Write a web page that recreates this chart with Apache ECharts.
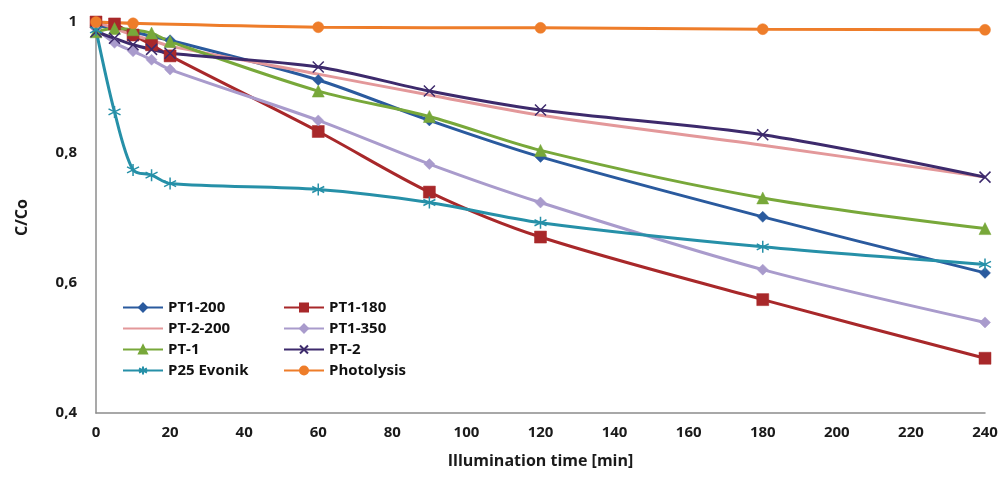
<!DOCTYPE html>
<html lang="en">
<head>
    <meta charset="UTF-8">
    <title>C/Co vs illumination time</title>
    <script src="https://cdn.jsdelivr.net/npm/echarts@6/dist/echarts.min.js"></script>
    <style>
        body { margin: 0; background: #fff; }
    </style>
</head>
<body>
    <div id="main" style="width: 1005px; height: 479px;"></div>
    <script>
        // sampling times [min]
        const times = [0, 5, 10, 15, 20, 60, 90, 120, 180, 240];

        // C/Co for each sample
        const pt1_200 = [0.995, 0.99, 0.985, 0.978, 0.972, 0.911, 0.849, 0.793, 0.701, 0.615];
        const pt1_180 = [1.0, 0.997, 0.98, 0.965, 0.948, 0.832, 0.739, 0.670, 0.574, 0.484];
        const pt2_200 = [1.0, 0.99, 0.98, 0.972, 0.963, 0.920, 0.888, 0.857, 0.811, 0.762];
        const pt1_350 = [0.99, 0.968, 0.955, 0.942, 0.927, 0.849, 0.782, 0.723, 0.620, 0.539];
        const pt_1 = [0.985, 0.99, 0.988, 0.983, 0.97, 0.894, 0.855, 0.803, 0.730, 0.683];
        const pt_2 = [0.985, 0.975, 0.965, 0.958, 0.952, 0.931, 0.894, 0.865, 0.827, 0.762];
        const p25 = [0.988, 0.862, 0.773, 0.765, 0.752, 0.743, 0.723, 0.692, 0.655, 0.628];
        const photolysis = [1.0, null, 0.998, null, null, 0.992, null, 0.991, 0.989, 0.988];

        const xSym = 'path://M0,0 L10,10 M10,0 L0,10';
        const starSym = 'path://M5,0 L5,10 M0,2.5 L10,7.5 M0,7.5 L10,2.5';

        function pairs(vals) {
            return times.map((t, i) => [t, vals[i]]);
        }

        function line(name, vals, color, symbol, size, stroke) {
            return {
                name: name,
                type: 'line',
                data: pairs(vals),
                smooth: 0.3,
                connectNulls: true,
                symbol: symbol,
                symbolSize: size,
                showSymbol: size > 0,
                lineStyle: { color: color, width: 3 },
                itemStyle: stroke
                    ? { color: 'rgba(0,0,0,0)', borderColor: color, borderWidth: 1.5 }
                    : { color: color, borderColor: color, borderWidth: 0.5 }
            };
        }

        const chart = echarts.init(document.getElementById('main'));
        const font = { fontFamily: 'Open Sans', fontWeight: 'bold', fontSize: 15, color: '#1a1a1a' };
        const legendText = { fontFamily: 'Open Sans', fontWeight: 'bold', fontSize: 15, color: '#111' };

        chart.setOption({
            animation: false,
            grid: { left: 96, right: 20, top: 22, bottom: 66 },
            legend: [{
                data: ['PT1-200', { name: 'PT-2-200', itemStyle: { color: 'rgba(0,0,0,0)', borderWidth: 0 } }, 'PT-1', 'P25 Evonik'],
                orient: 'vertical',
                left: 117, top: 295,
                itemWidth: 40, itemHeight: 10, itemGap: 6,
                textStyle: legendText
            }, {
                data: ['PT1-180', 'PT1-350', 'PT-2', 'Photolysis'],
                orient: 'vertical',
                left: 278, top: 295,
                itemWidth: 40, itemHeight: 10, itemGap: 6,
                textStyle: legendText
            }],
            xAxis: {
                type: 'value',
                min: 0, max: 240, interval: 20,
                name: 'Illumination time [min]',
                nameLocation: 'middle',
                nameGap: 40,
                nameTextStyle: Object.assign({}, font, { fontSize: 16 }),
                axisLine: { lineStyle: { color: '#8c8c8c', width: 1.5 } },
                axisTick: { show: false },
                splitLine: { show: false },
                axisLabel: Object.assign({ margin: 12 }, font)
            },
            yAxis: {
                type: 'value',
                min: 0.4, max: 1, interval: 0.2,
                name: 'C/Co',
                nameLocation: 'middle',
                nameGap: 66,
                nameRotate: 90,
                nameTextStyle: Object.assign({}, font, { fontSize: 16 }),
                axisLine: { show: true, lineStyle: { color: '#8c8c8c', width: 1.5 } },
                axisTick: { show: false },
                splitLine: { show: false },
                axisLabel: Object.assign({
                    margin: 19,
                    formatter: v => String(Math.round(v * 10) / 10).replace('.', ',')
                }, font)
            },
            series: [
                line('PT1-200', pt1_200, '#2a5a9e', 'diamond', 11),
                line('PT1-180', pt1_180, '#a8282a', 'rect', 12),
                line('PT-2-200', pt2_200, '#e3989a', 'circle', 0),
                line('PT1-350', pt1_350, '#a99bcc', 'diamond', 11),
                line('PT-1', pt_1, '#78a83a', 'triangle', 12),
                line('PT-2', pt_2, '#3d2a6c', xSym, 11, true),
                line('P25 Evonik', p25, '#2690a8', starSym, 12, true),
                line('Photolysis', photolysis, '#ee7d2a', 'circle', 11)
            ]
        });
    </script>
</body>
</html>
